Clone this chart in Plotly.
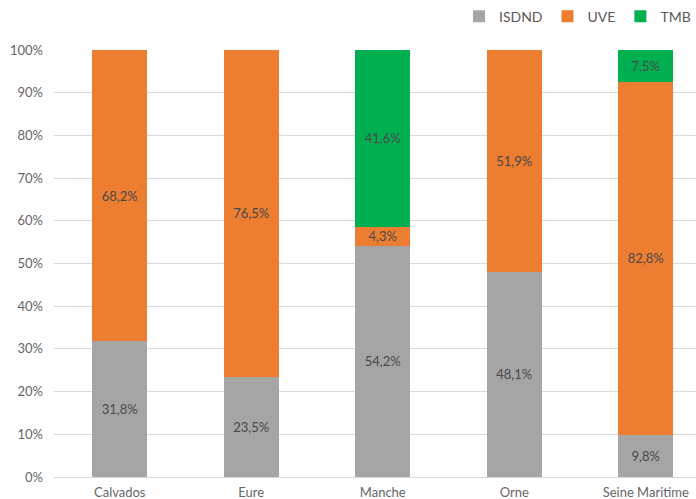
import plotly.graph_objects as go

categories = ["Calvados", "Eure", "Manche", "Orne", "Seine Maritime"]
isdnd = [31.8, 23.5, 54.2, 48.1, 9.8]
uve = [68.2, 76.5, 4.3, 51.9, 82.8]
tmb = [0, 0, 41.6, 0, 7.5]
y_ticks = [0, 10, 20, 30, 40, 50, 60, 70, 80, 90, 100]

def labels(vals):
    return [("" if v == 0 else f"{v:.1f}".replace(".", ",") + "%") for v in vals]

series = [("ISDND", isdnd, "#A5A5A5"), ("UVE", uve, "#ED7D31"), ("TMB", tmb, "#00B050")]

fig = go.Figure()
for name, vals, color in series:
    fig.add_trace(go.Bar(
        x=categories, y=[v / 100 for v in vals], name=name,
        marker=dict(color=color, line=dict(width=0)),
        text=labels(vals), textposition="inside", insidetextanchor="middle",
        textfont=dict(color="#4a4a4a", size=13), width=0.418,
        hoverinfo="skip",
    ))

fig.update_layout(
    barmode="stack",
    width=696, height=499,
    margin=dict(l=54, r=0, t=50, b=22, autoexpand=False),
    paper_bgcolor="white", plot_bgcolor="white",
    font=dict(family="Lato, sans-serif", color="#666666", size=12),
    uniformtext=dict(mode="show", minsize=13),
    legend=dict(orientation="h", x=1.0, xanchor="right", y=1.078, yanchor="middle",
                font=dict(size=14, color="#595959"), traceorder="normal",
                itemwidth=30, bgcolor="rgba(0,0,0,0)"),
    showlegend=True,
)
fig.update_xaxes(range=[-0.5, 4.382], showgrid=False, showline=True, linecolor="#D9D9D9",
                 linewidth=1, ticks="", tickfont=dict(size=13), automargin=False,
                 ticklabelstandoff=3)
fig.update_yaxes(range=[0, 1], tickvals=[t / 100 for t in y_ticks],
                 ticktext=[f"{t}%" for t in y_ticks], showgrid=True, gridcolor="#D9D9D9",
                 zeroline=False, showline=False, tickfont=dict(size=13), ticklen=0,
                 automargin=False, ticklabelstandoff=10)

fig.write_html("out.html", config={"displayModeBar": False},
               post_script="document.body.style.margin='0';document.body.style.overflow='hidden';")
